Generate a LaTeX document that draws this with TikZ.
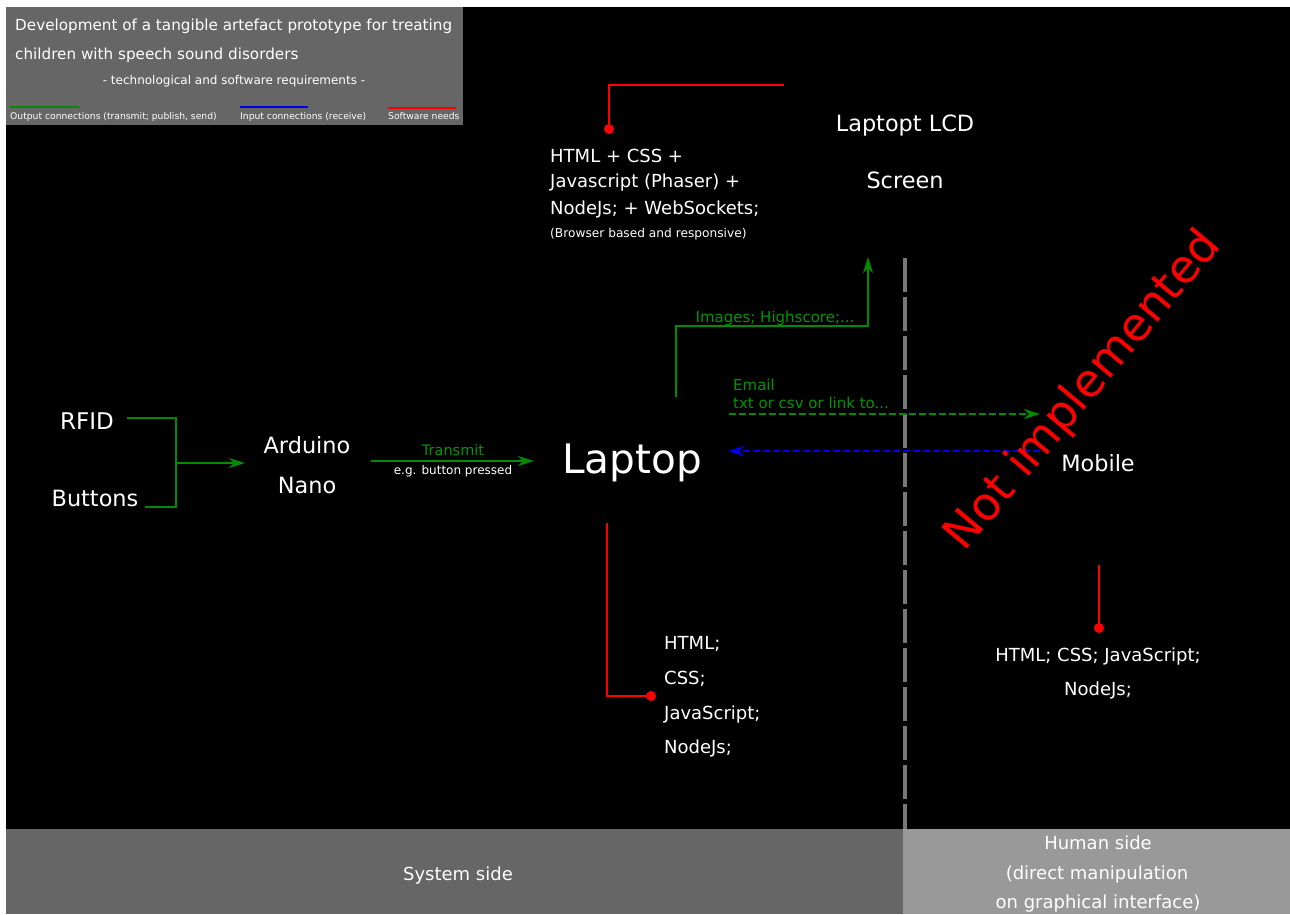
\documentclass[tikz,border=0pt]{standalone}
\usepackage{fontspec}
\setmainfont{DejaVu Sans}
\usetikzlibrary{arrows.meta}
\definecolor{gline}{RGB}{0,140,0}
\definecolor{gtxt}{RGB}{0,150,0}
\definecolor{darkbar}{RGB}{102,102,102}
\definecolor{lightbar}{RGB}{153,153,153}
\definecolor{divgray}{RGB}{120,120,120}
\definecolor{bluel}{RGB}{0,0,230}
\newcommand{\fsz}[1]{\fontsize{#1}{#1}\selectfont}
\tikzset{
  lbl/.style={text=white, inner sep=0pt, font=\fsz{18}},
  big/.style={lbl, font=\fsz{22.4}},
  gtext/.style={text=gtxt, inner sep=0pt, font=\fsz{15}},
  legtext/.style={text=white, inner sep=0pt, font=\fsz{9.2}, anchor=base west},
  glink/.style={draw=gline, line width=1.5pt},
  arrowtip/.style={-{Stealth[length=16pt,width=10pt,inset=5pt]}},
  garrow/.style={glink, arrowtip},
  redlink/.style={draw=red, line width=1.5pt},
  reddot/.style={circle, fill=red, inner sep=0pt, minimum size=10pt},
}
\begin{document}
\begin{tikzpicture}[x=1pt,y=-1pt]
\useasboundingbox (0,0) rectangle (1290,914);
\fill[white] (0,0) rectangle (1290,914);
\fill[black] (6,7) rectangle (1290,829);
\fill[darkbar] (6,829) rectangle (903,914);
\fill[lightbar] (903,829) rectangle (1290,914);
% title box
\fill[darkbar] (6,7) rectangle (463,125);
\node[lbl, font=\fsz{15.2}, anchor=base west] (t1) at (15,30) {Development of a tangible artefact prototype for treating};
\node[lbl, font=\fsz{15.2}, anchor=base west] (t2) at (15,59) {children with speech sound disorders};
\node[lbl, font=\fsz{12}, anchor=base] (t3) at (234,84) {- technological and software requirements -};
% legend
\coordinate (lg1) at (10,107); \coordinate (lg2) at (79,107);
\coordinate (lb1) at (240,107); \coordinate (lb2) at (308,107);
\coordinate (lr1) at (388,108); \coordinate (lr2) at (456,108);
\draw[gline, line width=2pt] (lg1) -- (lg2);
\draw[bluel, line width=2pt] (lb1) -- (lb2);
\draw[red, line width=2pt] (lr1) -- (lr2);
\node[legtext] (lgt) at (10,119) {Output connections (transmit; publish, send)};
\node[legtext] (lbt) at (240,119) {Input connections (receive)};
\node[legtext] (lrt) at (388,119) {Software needs};
% divider
\coordinate (dtop) at (905,258); \coordinate (dbot) at (905,829);
\draw[divgray, line width=4pt, dash pattern=on 34pt off 5pt] (dtop) -- (dbot);
% inputs
\node[big, font=\fsz{23}, anchor=base] (rfid) at (87,429) {RFID};
\node[big, anchor=base] (buttons) at (95,506) {Buttons};
\coordinate (rfidend) at (127,418);
\coordinate (btnend) at (145,507);
\coordinate (jtop) at (176,418);
\coordinate (jbot) at (176,507);
\coordinate (jmid) at (176,463);
\coordinate (ardin) at (245,463);
\draw[glink] (rfidend) -- (jtop) -- (jbot) -- (btnend);
\draw[garrow] (jmid) -- (ardin);
\node[big, anchor=base] (ard1) at (307,453) {Arduino};
\node[big, anchor=base] (ard2) at (307,493) {Nano};
% transmit
\coordinate (tx1) at (371,461); \coordinate (tx2) at (534,461);
\draw[garrow] (tx1) -- (tx2);
\node[gtext, font=\fsz{14.5}, anchor=base] (transmit) at (453,455) {Transmit};
\node[lbl, font=\fsz{12}, anchor=base] (eg) at (453,474) {e.g. button pressed};
% laptop
\node[lbl, font=\fsz{40.6}, anchor=base] (laptop) at (632,473) {Laptop};
% screen
\node[big, anchor=base] (lcd1) at (905,131) {Laptopt LCD};
\node[big, anchor=base] (lcd2) at (905,188) {Screen};
% images arrow
\coordinate (im0) at (676,397); \coordinate (im1) at (868,326); \coordinate (im2) at (868,257);
\draw[garrow] (im0) |- (im1) -- (im2);
\node[gtext, anchor=base] (images) at (775,322) {Images; Highscore;...};
% software for screen
\coordinate (rs0) at (784,85); \coordinate (rs1) at (609,85);
\node[reddot] (rsdot) at (609,129) {};
\draw[redlink] (rs0) -- (rs1) -- (rsdot.center);
\node[lbl, anchor=base west] (h1) at (550,162) {HTML + CSS +};
\node[lbl, anchor=base west] (h2) at (550,187) {Javascript (Phaser) +};
\node[lbl, anchor=base west] (h3) at (550,214) {NodeJs; + WebSockets;};
\node[lbl, font=\fsz{12.2}, anchor=base west] (h4) at (550,237) {(Browser based and responsive)};
% email & receive
\coordinate (em0) at (729,414); \coordinate (em1) at (1040,414);
\draw[glink, dash pattern=on 7pt off 3pt, arrowtip] (em0) -- (em1);
\node[gtext, anchor=base west] (email1) at (733,390) {Email};
\node[gtext, anchor=base west] (email2) at (733,408) {txt or csv or link to...};
\coordinate (rc0) at (1040,451); \coordinate (rc1) at (728,451);
\draw[bluel, line width=1.5pt, dash pattern=on 7pt off 3pt, arrowtip] (rc0) -- (rc1);
% mobile
\node[big, anchor=base] (mobile) at (1098,471) {Mobile};
\node[text=red, inner sep=0pt, font=\fsz{46}, rotate=50] (notimpl) at (1084,391) {Not implemented};
\coordinate (ms0) at (1099,565);
\node[reddot] (msdot) at (1099,628) {};
\draw[redlink] (ms0) -- (msdot.center);
\node[lbl, anchor=base] (m1) at (1098,661) {HTML; CSS; JavaScript;};
\node[lbl, anchor=base] (m2) at (1098,695) {NodeJs;};
% laptop software
\coordinate (ls0) at (607,523); \coordinate (ls1) at (607,696);
\node[reddot] (lsdot) at (651,696) {};
\draw[redlink] (ls0) -- (ls1) -- (lsdot.center);
\node[lbl, anchor=base west] (s1) at (664,649) {HTML;};
\node[lbl, anchor=base west] (s2) at (664,684) {CSS;};
\node[lbl, anchor=base west] (s3) at (664,719) {JavaScript;};
\node[lbl, anchor=base west] (s4) at (664,753) {NodeJs;};
% bottom bars
\node[lbl, anchor=base] (sys) at (458,880) {System side};
\node[lbl, anchor=base] (hum1) at (1098,849) {Human side};
\node[lbl, anchor=base] (hum2) at (1097,879) {(direct manipulation};
\node[lbl, anchor=base] (hum3) at (1098,908) {on graphical interface)};
\end{tikzpicture}
\end{document}
